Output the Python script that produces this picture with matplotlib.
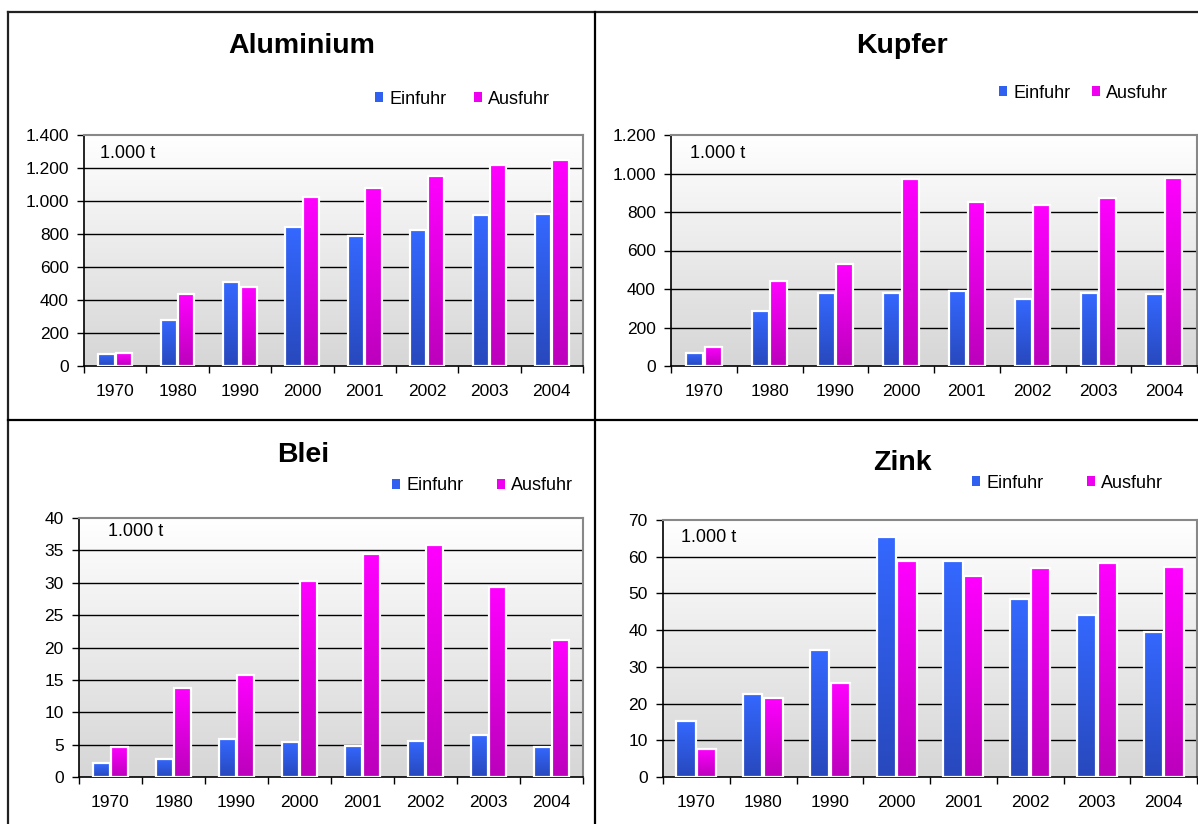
import numpy as np
import matplotlib
matplotlib.use("Agg")
import matplotlib.pyplot as plt
from matplotlib.lines import Line2D
from matplotlib.patches import Patch
from matplotlib.colors import LinearSegmentedColormap
from matplotlib.ticker import FuncFormatter, MultipleLocator

plt.rcParams['font.family'] = ['Liberation Sans', 'DejaVu Sans']

# Data (1.000 t)
years = ['1970', '1980', '1990', '2000', '2001', '2002', '2003', '2004']
alu_ein = [73, 279, 509, 840, 786, 822, 913, 921]
alu_aus = [77, 436, 479, 1022, 1077, 1150, 1220, 1246]
kupfer_ein = [69, 287, 381, 379, 388, 348, 377, 372]
kupfer_aus = [99, 442, 530, 971, 850, 838, 871, 975]
blei_ein = [2.1, 2.8, 5.8, 5.4, 4.8, 5.6, 6.5, 4.7]
blei_aus = [4.7, 13.8, 15.8, 30.3, 34.4, 35.8, 29.4, 21.2]
zink_ein = [15.2, 22.7, 34.6, 65.5, 58.7, 48.4, 44.0, 39.5]
zink_aus = [7.7, 21.6, 25.7, 58.7, 54.7, 56.8, 58.3, 57.3]

W, H = 1198, 824
fig = plt.figure(figsize=(W / 100, H / 100), dpi=100)

blue_cm = LinearSegmentedColormap.from_list('b', ['#2848bc', '#3468ff'])
mag_cm = LinearSegmentedColormap.from_list('m', ['#bb00bb', '#ff00ff'])
bg_cm = LinearSegmentedColormap.from_list('bg', ['#d6d6d6', '#ffffff'])

TICK_FS = 12.5
LEG_FS = 13


def fmt(v, pos):
    return f"{int(v):,}".replace(',', '.')


def panel(box, ein, aus, ymax, ystep, title, title_xy, leg_xy, unit_off, barw):
    l, r, t, b = box
    ax = fig.add_axes([l / W, 1 - b / H, (r - l) / W, (b - t) / H])
    x = np.arange(len(years))

    # plot area background gradient
    grad = np.linspace(0, 1, 256).reshape(-1, 1)
    ax.imshow(grad, cmap=bg_cm, origin='lower', aspect='auto',
              extent=[0, 1, 0, 1], transform=ax.transAxes, zorder=0)

    for yv in np.arange(ystep, ymax, ystep):
        ax.axhline(yv, color='black', lw=1.0, zorder=1)

    for vals, off, cm in [(ein, -barw / 2 - 0.01, blue_cm), (aus, barw / 2 + 0.01, mag_cm)]:
        bars = ax.bar(x + off, vals, width=barw, facecolor='none',
                      edgecolor='white', linewidth=1.6, zorder=3)
        for bar in bars:
            bx, bw, bh = bar.get_x(), bar.get_width(), bar.get_height()
            im = ax.imshow(grad, cmap=cm, origin='lower', aspect='auto',
                           extent=[bx, bx + bw, 0, bh], zorder=2)
            im.set_clip_path(bar)
    ax.set_xlim(-0.5, len(years) - 0.5)
    ax.set_ylim(0, ymax)

    ax.set_xticks(x)
    ax.set_xticklabels(years)
    ax.set_xticks(np.arange(-0.5, len(years)), minor=True)
    ax.tick_params(axis='x', which='major', length=0, pad=13, labelsize=TICK_FS)
    ax.tick_params(axis='x', which='minor', length=5, width=1, direction='out')
    ax.yaxis.set_major_locator(MultipleLocator(ystep))
    ax.yaxis.set_major_formatter(FuncFormatter(fmt))
    ax.tick_params(axis='y', length=5, width=1, direction='out', labelsize=TICK_FS, pad=6)
    for s in ['top', 'right']:
        ax.spines[s].set_color('#888888')
        ax.spines[s].set_linewidth(1.5)
    for s in ['left', 'bottom']:
        ax.spines[s].set_color('black')
        ax.spines[s].set_linewidth(1.2)

    ax.annotate('1.000 t', xy=(0, 1), xycoords='axes fraction',
                xytext=unit_off, textcoords='offset pixels',
                ha='left', va='center', fontsize=LEG_FS)

    fig.text(title_xy[0] / W, 1 - title_xy[1] / H, title, ha='center', va='center',
             fontsize=20.5, fontweight='bold')

    handles = [Patch(facecolor='#3060f0', edgecolor='none'),
               Patch(facecolor='#f000f0', edgecolor='none')]
    fig.legend(handles, ['Einfuhr', 'Ausfuhr'], ncol=2, frameon=False,
               loc='center left', bbox_to_anchor=(leg_xy[0] / W, 1 - leg_xy[1] / H),
               handlelength=0.45, handleheight=0.45, handletextpad=0.35,
               columnspacing=leg_xy[2], fontsize=LEG_FS, borderaxespad=0, borderpad=0)
    return ax


panel((84, 583, 135, 366), alu_ein, alu_aus, 1400, 200, 'Aluminium',
      (302, 46), (375, 99, 1.5), (16, -18), 0.26)
panel((671, 1197, 135, 366), kupfer_ein, kupfer_aus, 1200, 200, 'Kupfer',
      (902, 46), (999, 93, 1.17), (19, -19), 0.26)
panel((79, 583, 518, 777), blei_ein, blei_aus, 40, 5, 'Blei',
      (303, 455), (392, 486, 1.83), (29, -13), 0.27)
panel((663, 1197, 520, 777), zink_ein, zink_aus, 70, 10, 'Zink',
      (902, 463), (972, 483, 2.4), (18, -18), 0.29)

# panel frame lines
lw = 1.6
fig.add_artist(Line2D([8 / W, 1], [1 - 12 / H] * 2, color='#222222', lw=lw))
fig.add_artist(Line2D([8 / W] * 2, [0, 1 - 12 / H], color='#222222', lw=lw))
fig.add_artist(Line2D([595 / W] * 2, [0, 1 - 12 / H], color='black', lw=lw))
fig.add_artist(Line2D([8 / W, 1], [1 - 420 / H] * 2, color='black', lw=lw))

fig.savefig('out.png', dpi=100)
